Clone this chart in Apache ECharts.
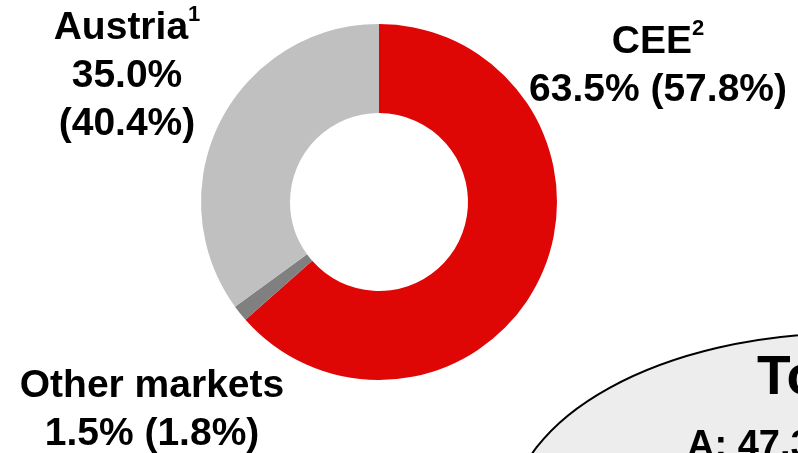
<!DOCTYPE html>
<html>
<head>
<meta charset="utf-8">
<script src="https://cdn.jsdelivr.net/npm/echarts@6/dist/echarts.min.js"></script>
<style>
html,body{margin:0;padding:0;background:#fff;}
#chart{width:798px;height:453px;}
</style>
</head>
<body>
<div id="chart"></div>
<script>
// ---- data ----
const regions = ['CEE', 'Other markets', 'Austria'];
const footnotes = ['2', '', '1'];
const shares = [63.5, 1.5, 35.0];
const prevShares = [57.8, 1.8, 40.4];
const boxTitle = 'To';
const boxLine = 'A: 47.3';

// ---- styling / layout ----
const colors = ['#df0606', '#808080', '#c0c0c0'];
const labelPos = [
  {x: 658, y: 66},
  {x: 152, y: 410},
  {x: 127, y: 76}
];
const FONT = '"Liberation Sans", Arial, Helvetica, sans-serif';

function fmt(v) { return v.toFixed(1) + '%'; }

const chart = echarts.init(document.getElementById('chart'), null, {renderer: 'canvas'});

const data = regions.map((name, i) => ({
  name: name,
  value: shares[i],
  itemStyle: {color: colors[i]}
}));

chart.setOption({
  animation: false,
  backgroundColor: '#ffffff',
  graphic: [
    {
      type: 'ellipse',
      z: 0,
      shape: {cx: 850, cy: 520, rx: 340, ry: 187},
      style: {fill: '#ededed', stroke: '#000000', lineWidth: 2}
    },
    {
      type: 'text',
      z: 1,
      x: 757, y: 379,
      style: {text: boxTitle, font: 'bold 55px ' + FONT, fill: '#000', textAlign: 'left', textVerticalAlign: 'middle'}
    },
    {
      type: 'text',
      z: 1,
      x: 687, y: 447,
      style: {text: boxLine, font: 'bold 38px ' + FONT, fill: '#000', textAlign: 'left', textVerticalAlign: 'middle'}
    }
  ],
  series: [{
    type: 'pie',
    center: [379, 202],
    radius: [89, 178],
    startAngle: 90,
    clockwise: true,
    silent: true,
    avoidLabelOverlap: false,
    itemStyle: {borderWidth: 0},
    labelLine: {show: false},
    label: {
      show: true,
      position: 'outside',
      color: '#000',
      fontFamily: FONT,
      fontWeight: 'bold',
      fontSize: 39,
      lineHeight: 48,
      align: 'center',
      formatter: function (p) {
        const i = p.dataIndex;
        const sup = footnotes[i] ? '{s|' + footnotes[i] + '}' : '';
        if (i === 2) {
          return '{b|' + regions[i] + '}' + sup + '\n{b|' + fmt(shares[i]) + '}\n{b|(' + fmt(prevShares[i]) + ')}';
        }
        return '{b|' + regions[i] + '}' + sup + '\n{b|' + fmt(shares[i]) + ' (' + fmt(prevShares[i]) + ')}';
      },
      rich: {
        b: {fontFamily: FONT, fontWeight: 'bold', fontSize: 39, lineHeight: 48, color: '#000'},
        s: {fontFamily: FONT, fontWeight: 'bold', fontSize: 22, lineHeight: 40, verticalAlign: 'top', color: '#000'}
      }
    },
    labelLayout: function (params) {
      const pos = labelPos[params.dataIndex];
      return {x: pos.x, y: pos.y, align: 'center', verticalAlign: 'middle', hideOverlap: false};
    },
    data: data
  }]
});
</script>
</body>
</html>
